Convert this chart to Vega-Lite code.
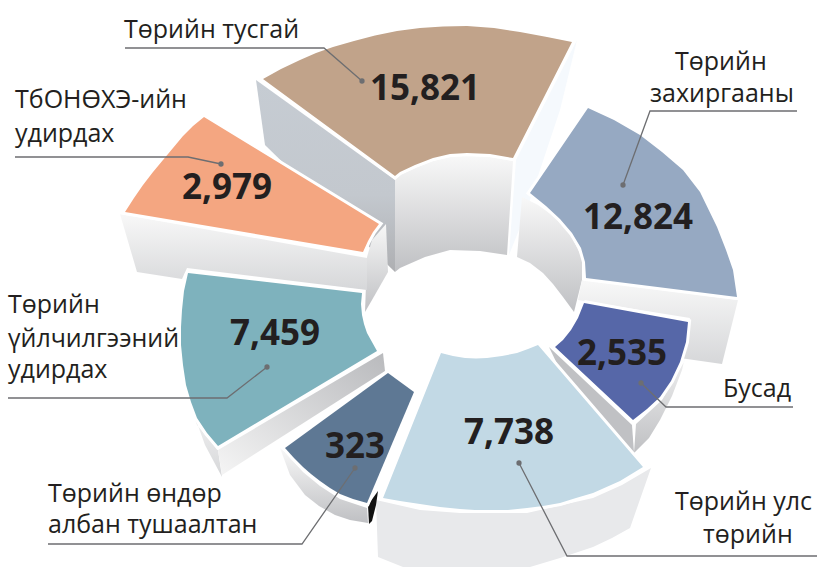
{
"$schema":"https://vega.github.io/schema/vega-lite/v6.json",
"width":817,"height":567,"padding":0,
"autosize":{"type":"none"},
"background":"white",
"config":{"view":{"stroke":null}},
"datasets":{
"faces":[
{"s":"tusgai","x":263,"y":79},{"s":"tusgai","x":281,"y":69},{"s":"tusgai","x":300,"y":60},{"s":"tusgai","x":316,"y":53},{"s":"tusgai","x":333,"y":47},{"s":"tusgai","x":354,"y":41},{"s":"tusgai","x":375,"y":35.5},{"s":"tusgai","x":397,"y":31},{"s":"tusgai","x":420,"y":28},{"s":"tusgai","x":443,"y":26.5},{"s":"tusgai","x":467,"y":26},{"s":"tusgai","x":494,"y":28},{"s":"tusgai","x":520,"y":32},{"s":"tusgai","x":547,"y":37},{"s":"tusgai","x":572,"y":42},{"s":"tusgai","x":513,"y":158},{"s":"tusgai","x":490,"y":154},{"s":"tusgai","x":467,"y":153},{"s":"tusgai","x":450,"y":154},{"s":"tusgai","x":433,"y":158},{"s":"tusgai","x":415,"y":165},{"s":"tusgai","x":400,"y":172},{"s":"tusgai","x":395,"y":176},{"s":"tusgai","x":263,"y":79},
{"s":"zahirgaa","x":588,"y":108},{"s":"zahirgaa","x":614,"y":120},{"s":"zahirgaa","x":640,"y":135},{"s":"zahirgaa","x":662,"y":152},{"s":"zahirgaa","x":683,"y":170},{"s":"zahirgaa","x":700,"y":192},{"s":"zahirgaa","x":717,"y":227},{"s":"zahirgaa","x":726,"y":250},{"s":"zahirgaa","x":733,"y":270},{"s":"zahirgaa","x":737,"y":297},{"s":"zahirgaa","x":586,"y":278},{"s":"zahirgaa","x":585,"y":262},{"s":"zahirgaa","x":581,"y":248},{"s":"zahirgaa","x":572,"y":233},{"s":"zahirgaa","x":560,"y":219},{"s":"zahirgaa","x":546,"y":206},{"s":"zahirgaa","x":530,"y":193},{"s":"zahirgaa","x":588,"y":108},
{"s":"busad","x":584,"y":303},{"s":"busad","x":688,"y":322},{"s":"busad","x":686,"y":342},{"s":"busad","x":680,"y":362},{"s":"busad","x":671,"y":381},{"s":"busad","x":660,"y":397},{"s":"busad","x":647,"y":409},{"s":"busad","x":633,"y":420},{"s":"busad","x":555,"y":347},{"s":"busad","x":563,"y":340},{"s":"busad","x":571,"y":330},{"s":"busad","x":578,"y":318},{"s":"busad","x":584,"y":303},
{"s":"uls","x":441,"y":353},{"s":"uls","x":453,"y":356},{"s":"uls","x":465,"y":358},{"s":"uls","x":476,"y":358.5},{"s":"uls","x":487,"y":358},{"s":"uls","x":502,"y":356},{"s":"uls","x":517,"y":353},{"s":"uls","x":528,"y":349},{"s":"uls","x":538,"y":345},{"s":"uls","x":643,"y":467},{"s":"uls","x":620,"y":481},{"s":"uls","x":593,"y":493},{"s":"uls","x":576,"y":498},{"s":"uls","x":560,"y":503},{"s":"uls","x":543,"y":506},{"s":"uls","x":527,"y":508},{"s":"uls","x":508,"y":510},{"s":"uls","x":490,"y":510},{"s":"uls","x":475,"y":510},{"s":"uls","x":460,"y":509},{"s":"uls","x":440,"y":507},{"s":"uls","x":420,"y":504},{"s":"uls","x":400,"y":501},{"s":"uls","x":383,"y":498},{"s":"uls","x":441,"y":353},
{"s":"ondor","x":388,"y":373},{"s":"ondor","x":414,"y":392},{"s":"ondor","x":367,"y":503},{"s":"ondor","x":353,"y":499},{"s":"ondor","x":340,"y":494},{"s":"ondor","x":330,"y":488},{"s":"ondor","x":320,"y":481},{"s":"ondor","x":311,"y":474},{"s":"ondor","x":303,"y":467},{"s":"ondor","x":294,"y":458},{"s":"ondor","x":285,"y":448},{"s":"ondor","x":388,"y":373},
{"s":"uilchilgee","x":188,"y":273},{"s":"uilchilgee","x":362,"y":293},{"s":"uilchilgee","x":361,"y":304},{"s":"uilchilgee","x":362,"y":315},{"s":"uilchilgee","x":364,"y":324},{"s":"uilchilgee","x":367,"y":333},{"s":"uilchilgee","x":372,"y":342},{"s":"uilchilgee","x":377,"y":351},{"s":"uilchilgee","x":218,"y":446},{"s":"uilchilgee","x":207,"y":433},{"s":"uilchilgee","x":197,"y":418},{"s":"uilchilgee","x":191,"y":402},{"s":"uilchilgee","x":186,"y":385},{"s":"uilchilgee","x":183,"y":365},{"s":"uilchilgee","x":181,"y":345},{"s":"uilchilgee","x":181,"y":327},{"s":"uilchilgee","x":182,"y":310},{"s":"uilchilgee","x":184,"y":291},{"s":"uilchilgee","x":188,"y":273},
{"s":"tbonohe","x":204,"y":117},{"s":"tbonohe","x":379,"y":224},{"s":"tbonohe","x":373,"y":232},{"s":"tbonohe","x":368,"y":241},{"s":"tbonohe","x":363,"y":252},{"s":"tbonohe","x":125,"y":212},{"s":"tbonohe","x":134,"y":198},{"s":"tbonohe","x":143,"y":185},{"s":"tbonohe","x":153,"y":172},{"s":"tbonohe","x":163,"y":160},{"s":"tbonohe","x":173,"y":148},{"s":"tbonohe","x":183,"y":136},{"s":"tbonohe","x":193,"y":126},{"s":"tbonohe","x":204,"y":117}
],
"wallsDown":[
{"s":"a","x":395,"y":180},{"s":"a","x":400,"y":175},{"s":"a","x":415,"y":168},{"s":"a","x":433,"y":161},{"s":"a","x":450,"y":157},{"s":"a","x":467,"y":156},{"s":"a","x":490,"y":157},{"s":"a","x":513,"y":161},{"s":"a","x":507,"y":255},{"s":"a","x":480,"y":251},{"s":"a","x":450,"y":250},{"s":"a","x":425,"y":257},{"s":"a","x":400,"y":268},{"s":"a","x":395,"y":272},
{"s":"c","x":386,"y":224},{"s":"c","x":372,"y":240},{"s":"c","x":367,"y":257},{"s":"c","x":365,"y":312},{"s":"c","x":372,"y":300},{"s":"c","x":388,"y":272},
{"s":"e","x":522,"y":197},{"s":"e","x":538,"y":205},{"s":"e","x":552,"y":215},{"s":"e","x":562,"y":224},{"s":"e","x":572,"y":237},{"s":"e","x":582,"y":258},{"s":"e","x":582,"y":280},{"s":"e","x":574,"y":312},{"s":"e","x":563,"y":297},{"s":"e","x":553,"y":284},{"s":"e","x":543,"y":273},{"s":"e","x":530,"y":263},{"s":"e","x":517,"y":257},
{"s":"f","x":280,"y":448},{"s":"f","x":285,"y":452},{"s":"f","x":303,"y":472},{"s":"f","x":320,"y":486},{"s":"f","x":340,"y":499},{"s":"f","x":367,"y":508},{"s":"f","x":368,"y":523},{"s":"f","x":350,"y":520},{"s":"f","x":335,"y":515},{"s":"f","x":319,"y":506},{"s":"f","x":305,"y":495},{"s":"f","x":290,"y":475},
{"s":"g","x":689,"y":340},{"s":"g","x":684,"y":362},{"s":"g","x":662,"y":400},{"s":"g","x":636,"y":424},{"s":"g","x":634,"y":453},{"s":"g","x":649,"y":438},{"s":"g","x":660,"y":420},{"s":"g","x":672,"y":396},{"s":"g","x":682,"y":370}
],
"wallsSoft":[
{"s":"b","x":120,"y":214},{"s":"b","x":367,"y":258},{"s":"b","x":367,"y":290},{"s":"b","x":187,"y":268},{"s":"b","x":182,"y":279},{"s":"b","x":137,"y":272},
{"s":"d","x":582,"y":280},{"s":"d","x":738,"y":300},{"s":"d","x":722,"y":364},{"s":"d","x":680,"y":358},{"s":"d","x":690,"y":318},{"s":"d","x":578,"y":300},
{"s":"h","x":187,"y":395},{"s":"h","x":197,"y":425},{"s":"h","x":218,"y":450},{"s":"h","x":222,"y":477},{"s":"h","x":205,"y":445}
],
"wallSteel":[
{"s":"a","x":256,"y":80},{"s":"a","x":395,"y":180},{"s":"a","x":395,"y":272},{"s":"a","x":265,"y":145}
],
"wallPale":[
{"s":"a","x":577,"y":40},{"s":"a","x":516,"y":160},{"s":"a","x":509,"y":255},{"s":"a","x":525,"y":215},{"s":"a","x":560,"y":110}
],
"wallSide":[
{"s":"a","x":383,"y":353},{"s":"a","x":385,"y":371},{"s":"a","x":222,"y":475},{"s":"a","x":218,"y":450}
],
"wallGrey":[
{"s":"a","x":549,"y":347},{"s":"a","x":632,"y":425},{"s":"a","x":634,"y":453},{"s":"a","x":600,"y":420},{"s":"a","x":560,"y":370}
],
"wallFlat":[
{"s":"a","x":376,"y":500},{"s":"a","x":420,"y":510},{"s":"a","x":460,"y":513},{"s":"a","x":527,"y":513},{"s":"a","x":593,"y":498},{"s":"a","x":622,"y":485},{"s":"a","x":651,"y":468},{"s":"a","x":630,"y":528},{"s":"a","x":612,"y":538},{"s":"a","x":593,"y":547},{"s":"a","x":560,"y":558},{"s":"a","x":530,"y":567},{"s":"a","x":403,"y":567},{"s":"a","x":378,"y":557}
],
"wallBlack":[
{"s":"a","x":368,"y":505},{"s":"a","x":378,"y":491},{"s":"a","x":376,"y":505},{"s":"a","x":372,"y":521},{"s":"a","x":369,"y":524}
],
"leaders":[
{"s":"tusgai","x":125,"y":48},{"s":"tusgai","x":324,"y":48},{"s":"tusgai","x":362,"y":81},
{"s":"zahirgaa","x":797,"y":111},{"s":"zahirgaa","x":650,"y":111},{"s":"zahirgaa","x":623,"y":185},
{"s":"tbonohe","x":15,"y":157},{"s":"tbonohe","x":188,"y":157},{"s":"tbonohe","x":221,"y":164},
{"s":"uilchilgee","x":8,"y":398},{"s":"uilchilgee","x":227,"y":398},{"s":"uilchilgee","x":267,"y":367},
{"s":"ondor","x":48,"y":544},{"s":"ondor","x":302,"y":544},{"s":"ondor","x":355,"y":468},
{"s":"busad","x":793,"y":407},{"s":"busad","x":666,"y":407},{"s":"busad","x":641,"y":383},
{"s":"uls","x":817,"y":556},{"s":"uls","x":567,"y":556},{"s":"uls","x":519,"y":463}
],
"dots":[
{"x":362,"y":81},{"x":623,"y":185},{"x":221,"y":164},{"x":267,"y":367},{"x":355,"y":468},{"x":641,"y":383},{"x":519,"y":463}
],
"values":[
{"value":15821,"x":425,"y":100},{"value":12824,"x":638,"y":229},{"value":2979,"x":227,"y":199},{"value":7459,"x":275,"y":345},{"value":2535,"x":622,"y":365},{"value":7738,"x":509,"y":444},{"value":323,"x":355,"y":458}
],
"labels":[
{"t":"Төрийн тусгай","x":124,"y":38},
{"t":"Төрийн","x":675,"y":70},{"t":"захиргааны","x":650,"y":102},
{"t":"ТбОНӨХЭ-ийн","x":15,"y":108},{"t":"удирдах","x":15,"y":142},
{"t":"Төрийн","x":8,"y":313},{"t":"үйлчилгээний","x":8,"y":347},{"t":"удирдах","x":8,"y":378},
{"t":"Төрийн өндөр","x":48,"y":502},{"t":"албан тушаалтан","x":48,"y":533},
{"t":"Бусад","x":723,"y":397},
{"t":"Төрийн улс","x":675,"y":510},{"t":"төрийн","x":703,"y":543}
]
},
"encoding":{
"x":{"field":"x","type":"quantitative","axis":null,"scale":{"domain":[0,817],"nice":false,"zero":false}},
"y":{"field":"y","type":"quantitative","axis":null,"scale":{"domain":[567,0],"nice":false,"zero":false}}
},
"layer":[
{"data":{"name":"wallSteel"},"transform":[{"window":[{"op":"row_number","as":"i"}],"groupby":["s"]}],
 "mark":{"type":"line","filled":true,"stroke":null,"fill":{"gradient":"linear","x1":0,"y1":0,"x2":0,"y2":1,"stops":[{"offset":0,"color":"#c6ccd3"},{"offset":0.6,"color":"#c3c8ce"},{"offset":1,"color":"#aeafb2"}]}},
 "encoding":{"order":{"field":"i"},"detail":{"field":"s"}}},
{"data":{"name":"wallPale"},"transform":[{"window":[{"op":"row_number","as":"i"}],"groupby":["s"]}],
 "mark":{"type":"line","filled":true,"stroke":null,"fill":"#f5f9fd"},
 "encoding":{"order":{"field":"i"},"detail":{"field":"s"}}},
{"data":{"name":"wallsDown"},"transform":[{"window":[{"op":"row_number","as":"i"}],"groupby":["s"]}],
 "mark":{"type":"line","filled":true,"stroke":null,"fill":{"gradient":"linear","x1":0,"y1":0,"x2":0,"y2":1,"stops":[{"offset":0,"color":"#f8f8f8"},{"offset":1,"color":"#bfc0c3"}]}},
 "encoding":{"order":{"field":"i"},"detail":{"field":"s"}}},
{"data":{"name":"wallsSoft"},"transform":[{"window":[{"op":"row_number","as":"i"}],"groupby":["s"]}],
 "mark":{"type":"line","filled":true,"stroke":null,"fill":{"gradient":"linear","x1":0,"y1":0,"x2":0,"y2":1,"stops":[{"offset":0,"color":"#f8f8f8"},{"offset":1,"color":"#d6d7d9"}]}},
 "encoding":{"order":{"field":"i"},"detail":{"field":"s"}}},
{"data":{"name":"wallSide"},"transform":[{"window":[{"op":"row_number","as":"i"}],"groupby":["s"]}],
 "mark":{"type":"line","filled":true,"stroke":null,"fill":{"gradient":"linear","x1":0,"y1":1,"x2":1,"y2":0,"stops":[{"offset":0,"color":"#f5f5f5"},{"offset":1,"color":"#b9babd"}]}},
 "encoding":{"order":{"field":"i"},"detail":{"field":"s"}}},
{"data":{"name":"wallGrey"},"transform":[{"window":[{"op":"row_number","as":"i"}],"groupby":["s"]}],
 "mark":{"type":"line","filled":true,"stroke":null,"fill":"#c0c1c4"},
 "encoding":{"order":{"field":"i"},"detail":{"field":"s"}}},
{"data":{"name":"wallFlat"},"transform":[{"window":[{"op":"row_number","as":"i"}],"groupby":["s"]}],
 "mark":{"type":"line","filled":true,"stroke":null,"fill":"#e8e9eb"},
 "encoding":{"order":{"field":"i"},"detail":{"field":"s"}}},
{"data":{"name":"wallBlack"},"transform":[{"window":[{"op":"row_number","as":"i"}],"groupby":["s"]}],
 "mark":{"type":"line","filled":true,"stroke":null,"fill":"#111111"},
 "encoding":{"order":{"field":"i"},"detail":{"field":"s"}}},
{"data":{"name":"faces"},"transform":[{"window":[{"op":"row_number","as":"i"}],"groupby":["s"]}],
 "mark":{"type":"line","stroke":"white","strokeWidth":6,"strokeJoin":"miter","fill":"white"},
 "encoding":{"order":{"field":"i"},"detail":{"field":"s"}}},
{"data":{"name":"faces"},"transform":[{"window":[{"op":"row_number","as":"i"}],"groupby":["s"]}],
 "mark":{"type":"line","filled":true,"stroke":null},
 "encoding":{"order":{"field":"i"},"detail":{"field":"s"},
  "fill":{"field":"s","type":"nominal","legend":null,"scale":{"domain":["tusgai","zahirgaa","busad","uls","ondor","uilchilgee","tbonohe"],"range":["#c1a38a","#96a9c2","#5667a8","#c2d9e5","#5e7894","#7eb2bd","#f4a681"]}}}},
{"data":{"name":"leaders"},"transform":[{"window":[{"op":"row_number","as":"i"}],"groupby":["s"]}],
 "mark":{"type":"line","stroke":"#6d6e71","strokeWidth":1.3},
 "encoding":{"order":{"field":"i"},"detail":{"field":"s"}}},
{"data":{"name":"dots"},"mark":{"type":"circle","size":28,"color":"#6d6e71","opacity":1}},
{"data":{"name":"values"},"mark":{"type":"text","font":"Open Sans","fontWeight":"bold","fontSize":35,"align":"center","baseline":"alphabetic","color":"#231f20"},
 "encoding":{"text":{"field":"value","type":"quantitative","format":",d"}}},
{"data":{"name":"labels"},"mark":{"type":"text","font":"Open Sans","fontSize":25,"align":"left","baseline":"alphabetic","color":"#231f20"},
 "encoding":{"text":{"field":"t"}}}
]
}
